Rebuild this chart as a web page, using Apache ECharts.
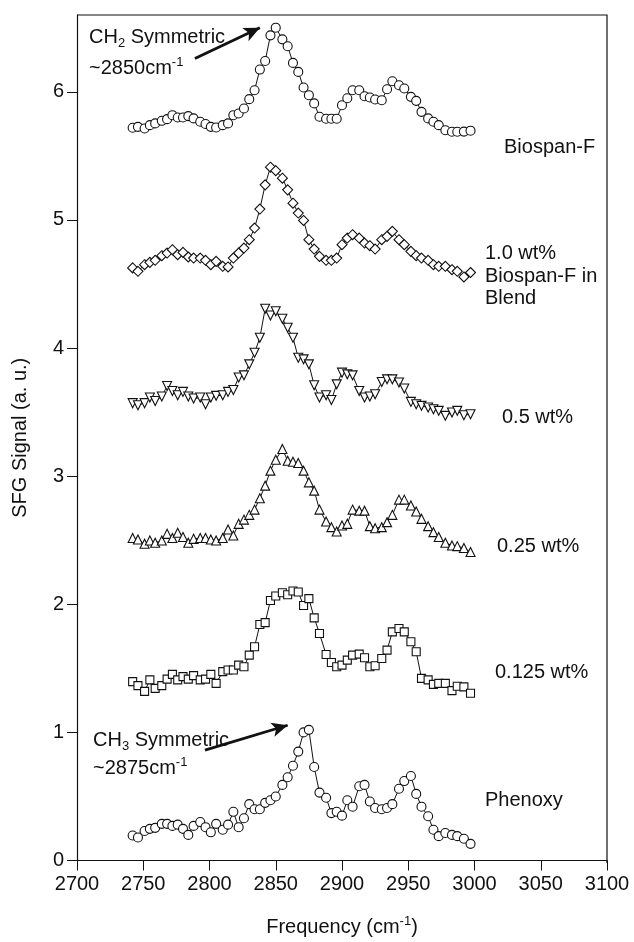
<!DOCTYPE html>
<html>
<head>
<meta charset="utf-8">
<script src="https://cdn.jsdelivr.net/npm/echarts@6/dist/echarts.min.js"></script>
<style>
  html, body { margin: 0; padding: 0; background: #fff; }
  #chart { width: 634px; height: 942px; }
</style>
</head>
<body>
<div id="chart"></div>
<script>
// Frequency grid shared by all spectra (cm-1)
const freq = [
  2742, 2746, 2751, 2755, 2759, 2764, 2768, 2772, 2776, 2780,
  2784, 2788, 2793, 2797, 2801, 2805, 2810, 2814, 2818, 2822,
  2826, 2830, 2834, 2838, 2842, 2846, 2850, 2855, 2859, 2863,
  2867, 2871, 2875, 2879, 2883, 2888, 2892, 2896, 2900, 2904,
  2908, 2913, 2917, 2921, 2925, 2930, 2934, 2938, 2943, 2947,
  2952, 2956, 2960, 2965, 2969, 2973, 2978, 2983, 2987, 2992,
  2997
];

// SFG signal (a.u.), each spectrum offset vertically
const phenoxy = [
  0.195, 0.18, 0.23, 0.247, 0.255, 0.286, 0.286, 0.27, 0.28, 0.247,
  0.20, 0.27, 0.30, 0.26, 0.22, 0.286, 0.24, 0.28, 0.38, 0.26,
  0.33, 0.44, 0.40, 0.40, 0.45, 0.47, 0.50, 0.59, 0.65, 0.74,
  0.85, 1.00, 1.02, 0.73, 0.53, 0.49, 0.37, 0.38, 0.35, 0.47,
  0.42, 0.58, 0.59, 0.46, 0.41, 0.40, 0.41, 0.44, 0.56, 0.62,
  0.66, 0.52, 0.42, 0.345, 0.24, 0.19, 0.215, 0.20, 0.19, 0.17,
  0.13
];
const wt0125 = [
  1.396, 1.365, 1.32, 1.41, 1.344, 1.365, 1.416, 1.453, 1.41, 1.435,
  1.416, 1.443, 1.41, 1.416, 1.453, 1.383, 1.474, 1.487, 1.487, 1.525,
  1.513, 1.603, 1.668, 1.842, 1.857, 2.03, 2.065, 2.09, 2.075, 2.104,
  2.096, 1.99, 2.044, 1.894, 1.772, 1.608, 1.546, 1.513, 1.525, 1.564,
  1.603, 1.611, 1.583, 1.513, 1.52, 1.577, 1.642, 1.785, 1.811, 1.785,
  1.707, 1.63, 1.422, 1.41, 1.375, 1.383, 1.383, 1.326, 1.36, 1.355,
  1.305
];
const wt025 = [
  2.517, 2.506, 2.472, 2.498, 2.48, 2.498, 2.55, 2.517, 2.558, 2.525,
  2.48, 2.511, 2.517, 2.517, 2.506, 2.498, 2.517, 2.584, 2.537, 2.628,
  2.661, 2.698, 2.739, 2.828, 2.926, 3.043, 3.128, 3.212, 3.121, 3.113,
  3.103, 3.043, 2.952, 2.887, 2.739, 2.646, 2.602, 2.568, 2.615, 2.628,
  2.739, 2.731, 2.731, 2.61, 2.594, 2.602, 2.641, 2.698, 2.817, 2.817,
  2.771, 2.724, 2.667, 2.61, 2.563, 2.525, 2.48, 2.459, 2.454, 2.439,
  2.408
];
const wt05 = [
  3.57, 3.554, 3.57, 3.614, 3.587, 3.622, 3.704, 3.665, 3.632, 3.658,
  3.622, 3.606, 3.614, 3.562, 3.614, 3.627, 3.632, 3.658, 3.673, 3.77,
  3.787, 3.873, 3.964, 4.081, 4.307, 4.254, 4.288, 4.229, 4.159, 4.081,
  3.925, 3.912, 3.873, 3.71, 3.614, 3.632, 3.595, 3.717, 3.808, 3.795,
  3.787, 3.665, 3.614, 3.622, 3.64, 3.735, 3.756, 3.756, 3.731, 3.684,
  3.58, 3.562, 3.549, 3.536, 3.523, 3.51, 3.471, 3.497, 3.51, 3.476,
  3.484
];
const wt10 = [
  4.626, 4.599, 4.651, 4.669, 4.685, 4.721, 4.742, 4.768, 4.729, 4.747,
  4.711, 4.703, 4.703, 4.685, 4.651, 4.677, 4.638, 4.633, 4.703, 4.742,
  4.781, 4.846, 4.937, 5.085, 5.274, 5.412, 5.385, 5.326, 5.235, 5.131,
  5.054, 4.996, 4.846, 4.773, 4.716, 4.685, 4.685, 4.703, 4.807, 4.859,
  4.885, 4.859, 4.82, 4.799, 4.773, 4.846, 4.872, 4.911, 4.846, 4.807,
  4.755, 4.721, 4.703, 4.685, 4.651, 4.638, 4.638, 4.612, 4.599, 4.555,
  4.59
];
const biospanF = [
  5.72, 5.727, 5.714, 5.74, 5.754, 5.774, 5.787, 5.818, 5.80, 5.80,
  5.811, 5.793, 5.767, 5.749, 5.727, 5.722, 5.74, 5.754, 5.818, 5.831,
  5.87, 5.943, 6.013, 6.174, 6.241, 6.441, 6.501, 6.41, 6.356, 6.226,
  6.156, 6.034, 5.974, 5.91, 5.806, 5.79, 5.79, 5.79, 5.896, 5.95,
  6.013, 6.013, 5.966, 5.956, 5.94, 5.935, 6.02, 6.083, 6.052, 6.026,
  5.961, 5.93, 5.844, 5.793, 5.767, 5.74, 5.70, 5.689, 5.689, 5.69,
  5.697
];

const xTicks = { min: 2700, max: 3100, step: 50 };
const yTicks = { min: 0, max: 6.6, step: 1 };

const FONT = '"Liberation Sans", Arial, Helvetica, sans-serif';
const INK = '#111';
const FS = 20;

function pairs(vals) { return freq.map((f, i) => [f, vals[i]]); }

function spectrum(name, vals, symbol, size, extra) {
  return Object.assign({
    name: name,
    type: 'line',
    data: pairs(vals),
    symbol: symbol,
    symbolSize: size,
    showAllSymbol: true,
    lineStyle: { color: INK, width: 1 },
    itemStyle: { color: '#fff', borderColor: INK, borderWidth: 1.1 },
    emphasis: { disabled: true },
    z: 3
  }, extra || {});
}

function arrow(from, to) {
  return {
    silent: true,
    symbol: ['none', 'arrow'],
    symbolSize: [11, 16],
    lineStyle: { color: INK, width: 2.8, type: 'solid' },
    label: { show: false },
    data: [[{ coord: from }, { coord: to }]]
  };
}

const chart = echarts.init(document.getElementById('chart'), null, { renderer: 'canvas' });

const labelStyle = { font: FS + 'px ' + FONT, fill: INK, verticalAlign: 'middle' };
function txt(x, y, text, rich) {
  const style = Object.assign({ text: text }, labelStyle);
  if (rich) style.rich = rich;
  return { type: 'text', x: x, y: y, style: style, z: 10 };
}
const supRich = {
  n: { fontSize: FS, fontFamily: FONT, color: INK, lineHeight: 25 },
  sup: { fontSize: 13, fontFamily: FONT, color: INK, verticalAlign: 'top', lineHeight: 25 },
  sub: { fontSize: 13, fontFamily: FONT, color: INK, verticalAlign: 'bottom', lineHeight: 25 }
};

chart.setOption({
  animation: false,
  backgroundColor: '#fff',
  grid: { left: 77, right: 27, top: 15, bottom: 79, show: false },
  xAxis: {
    type: 'value',
    min: xTicks.min, max: xTicks.max, interval: xTicks.step,
    name: '{n|Frequency (cm}{sup|-1}{n|)}',
    nameLocation: 'middle',
    nameGap: 54,
    nameTextStyle: { rich: supRich },
    axisLine: { show: true, onZero: false, lineStyle: { color: INK, width: 1.2 } },
    axisTick: { show: true, inside: false, length: 10, lineStyle: { color: INK, width: 1 } },
    axisLabel: { color: INK, fontSize: FS, fontFamily: FONT, margin: 14,
                 formatter: v => String(v) },
    splitLine: { show: false }
  },
  yAxis: {
    type: 'value',
    min: yTicks.min, max: yTicks.max, interval: yTicks.step,
    name: 'SFG Signal (a. u.)',
    nameLocation: 'middle',
    nameGap: 47,
    nameTextStyle: { color: INK, fontSize: FS, fontFamily: FONT },
    axisLine: { show: true, onZero: false, lineStyle: { color: INK, width: 1.2 } },
    axisTick: { show: true, inside: false, length: 10, lineStyle: { color: INK, width: 1 } },
    axisLabel: { color: INK, fontSize: FS, fontFamily: FONT, margin: 13, showMaxLabel: false },
    splitLine: { show: false }
  },
  series: [
    spectrum('Phenoxy', phenoxy, 'circle', 9, { markLine: arrow([2796.6, 0.862], [2859, 1.056]) }),
    spectrum('0.125 wt%', wt0125, 'rect', 8),
    spectrum('0.25 wt%', wt025, 'triangle', 9),
    spectrum('0.5 wt%', wt05, 'triangle', 9, { symbolRotate: 180 }),
    spectrum('1.0 wt%', wt10, 'diamond', 10),
    spectrum('Biospan-F', biospanF, 'circle', 9, { markLine: arrow([2789, 6.26], [2838, 6.50]) })
  ],
  graphic: [
    // plot frame: top and right edges
    { type: 'polyline', shape: { points: [[77, 15], [607, 15], [607, 863]] },
      style: { stroke: INK, lineWidth: 1.2, fill: null }, z: 1 },
    txt(89, 37, '{n|CH}{sub|2}{n| Symmetric}', supRich),
    txt(89, 68, '{n|~2850cm}{sup|-1}', supRich),
    txt(93, 740, '{n|CH}{sub|3}{n| Symmetric}', supRich),
    txt(93, 768, '{n|~2875cm}{sup|-1}', supRich),
    txt(504, 147, 'Biospan-F'),
    txt(485, 253, '1.0 wt%'),
    txt(485, 276, 'Biospan-F in'),
    txt(485, 298, 'Blend'),
    txt(502, 417, '0.5 wt%'),
    txt(497, 546, '0.25 wt%'),
    txt(495, 672, '0.125 wt%'),
    txt(485, 800, 'Phenoxy')
  ]
});
</script>
</body>
</html>
